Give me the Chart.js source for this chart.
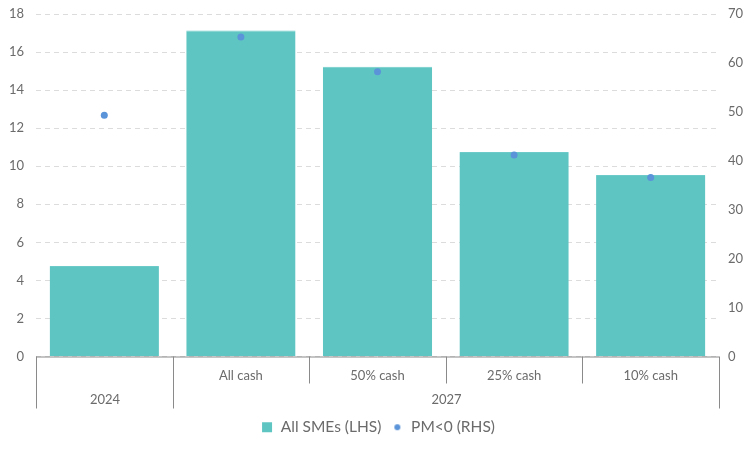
<!DOCTYPE html>
<html>
<head>
<meta charset="utf-8">
<script src="https://cdn.jsdelivr.net/npm/chart.js@4"></script>
<style>
  html, body { margin: 0; padding: 0; background: #fff; }
  #wrap { width: 756px; height: 450px; }
</style>
</head>
<body>
<div id="wrap"><canvas id="smeChart"></canvas></div>
<script>
const categories = ["2024", "All cash", "50% cash", "25% cash", "10% cash"];
const groups = [{ label: "2024", from: 0, to: 0 }, { label: "2027", from: 1, to: 4 }];
const allSmes = [4.75, 17.13, 15.23, 10.75, 9.54];
const pmNegative = [49.3, 65.3, 58.2, 41.2, 36.6];
const leftTicks = [0, 2, 4, 6, 8, 10, 12, 14, 16, 18];
const rightTicks = [0, 10, 20, 30, 40, 50, 60, 70];

const TEXT = "#6b6b6b";
const LINE = "#8a8a8a";
const FONT = "Lato";

// small canvases so the legend markers match the original sizes
function marker(shape, color) {
    const c = document.createElement("canvas");
    c.width = 12; c.height = 12;
    const g = c.getContext("2d");
    g.fillStyle = color;
    if (shape === "rect") g.fillRect(1, 1, 10, 10);
    else { g.beginPath(); g.arc(6, 6, 3, 0, Math.PI * 2); g.fill(); }
    return c;
}

// two row category axis with group separators
const groupAxis = {
    id: "groupAxis",
    afterDraw(chart) {
        const ctx = chart.ctx;
        const x = chart.scales.x;
        const top = chart.chartArea.bottom;
        const half = (x.getPixelForValue(1) - x.getPixelForValue(0)) / 2;
        ctx.save();
        ctx.strokeStyle = LINE;
        ctx.lineWidth = 1;
        ctx.beginPath();
        ctx.moveTo(chart.chartArea.left, top + 0.5);
        ctx.lineTo(chart.chartArea.right, top + 0.5);
        ctx.stroke();
        ctx.font = "13px " + FONT;
        ctx.fillStyle = TEXT;
        ctx.textAlign = "center";
        ctx.textBaseline = "middle";
        const edges = new Set();
        groups.forEach(gr => {
            const l = Math.round(x.getPixelForValue(gr.from) - half) + 0.5;
            const r = Math.round(x.getPixelForValue(gr.to) + half) + 0.5;
            [l, r].forEach(e => edges.add(e));
            ctx.fillText(gr.label, (l + r) / 2, top + 43);
            if (gr.to > gr.from) {
                for (let i = gr.from; i <= gr.to; i++) {
                    ctx.fillText(categories[i], x.getPixelForValue(i), top + 19);
                    if (i < gr.to) {
                        const s = Math.round(x.getPixelForValue(i) + half) + 0.5;
                        ctx.beginPath();
                        ctx.moveTo(s, top);
                        ctx.lineTo(s, top + 27);
                        ctx.stroke();
                    }
                }
            }
        });
        edges.forEach(e => {
            ctx.beginPath();
            ctx.moveTo(e, top);
            ctx.lineTo(e, top + 52);
            ctx.stroke();
        });
        ctx.restore();
    }
};

new Chart(document.getElementById("smeChart"), {
    type: "bar",
    data: {
        labels: categories,
        datasets: [
            {
                label: "PM<0 (RHS)",
                type: "line",
                data: pmNegative,
                yAxisID: "y2",
                showLine: false,
                pointRadius: 3.5,
                pointHoverRadius: 3.5,
                pointBackgroundColor: "#5b94d8",
                pointBorderWidth: 0,
                borderColor: "#5b94d8",
                backgroundColor: "#5b94d8",
                pointStyle: "circle",
                order: 0
            },
            {
                label: "All SMEs (LHS)",
                data: allSmes,
                yAxisID: "y",
                backgroundColor: "#5fc5c2",
                borderColor: "#6ccbc8",
                borderWidth: { top: 1, left: 0, right: 0, bottom: 0 },
                barPercentage: 0.8,
                categoryPercentage: 1.0,
                order: 1
            }
        ]
    },
    options: {
        responsive: true,
        maintainAspectRatio: false,
        animation: false,
        layout: { padding: { left: 0, right: 0, top: 0, bottom: 5 } },
        plugins: {
            legend: {
                position: "bottom",
                labels: {
                    usePointStyle: true,
                    boxHeight: 12,
                    boxWidth: 12,
                    padding: 10,
                    color: TEXT,
                    font: { family: FONT, size: 15.5 },
                    generateLabels(chart) {
                        return [
                            { text: "All SMEs (LHS)", pointStyle: marker("rect", "#5fc5c2"), fontColor: TEXT, lineWidth: 0, datasetIndex: 1 },
                            { text: "PM<0 (RHS)", pointStyle: marker("circle", "#5b94d8"), fontColor: TEXT, lineWidth: 0, datasetIndex: 0 }
                        ];
                    }
                }
            },
            tooltip: { enabled: false }
        },
        scales: {
            x: {
                grid: { display: false },
                border: { display: false },
                ticks: { display: false },
                afterFit(scale) { scale.height = 53; }
            },
            y: {
                position: "left",
                min: 0,
                max: 18,
                afterBuildTicks(scale) { scale.ticks = leftTicks.map(v => ({ value: v })); },
                afterFit(scale) { scale.width = 36; scale.paddingTop = 14; scale.paddingBottom = 0; },
                grid: { color: "#dcdcdc", drawTicks: false },
                border: { display: false, dash: [5, 4] },
                ticks: { color: TEXT, font: { family: FONT, size: 13 }, padding: 12 }
            },
            y2: {
                position: "right",
                min: 0,
                max: 70,
                afterBuildTicks(scale) { scale.ticks = rightTicks.map(v => ({ value: v })); },
                afterFit(scale) { scale.width = 37; scale.paddingTop = 14; scale.paddingBottom = 0; },
                grid: { display: false, drawTicks: false },
                border: { display: false },
                ticks: { color: TEXT, font: { family: FONT, size: 13 }, padding: 9 }
            }
        }
    },
    plugins: [groupAxis]
});
</script>
</body>
</html>
